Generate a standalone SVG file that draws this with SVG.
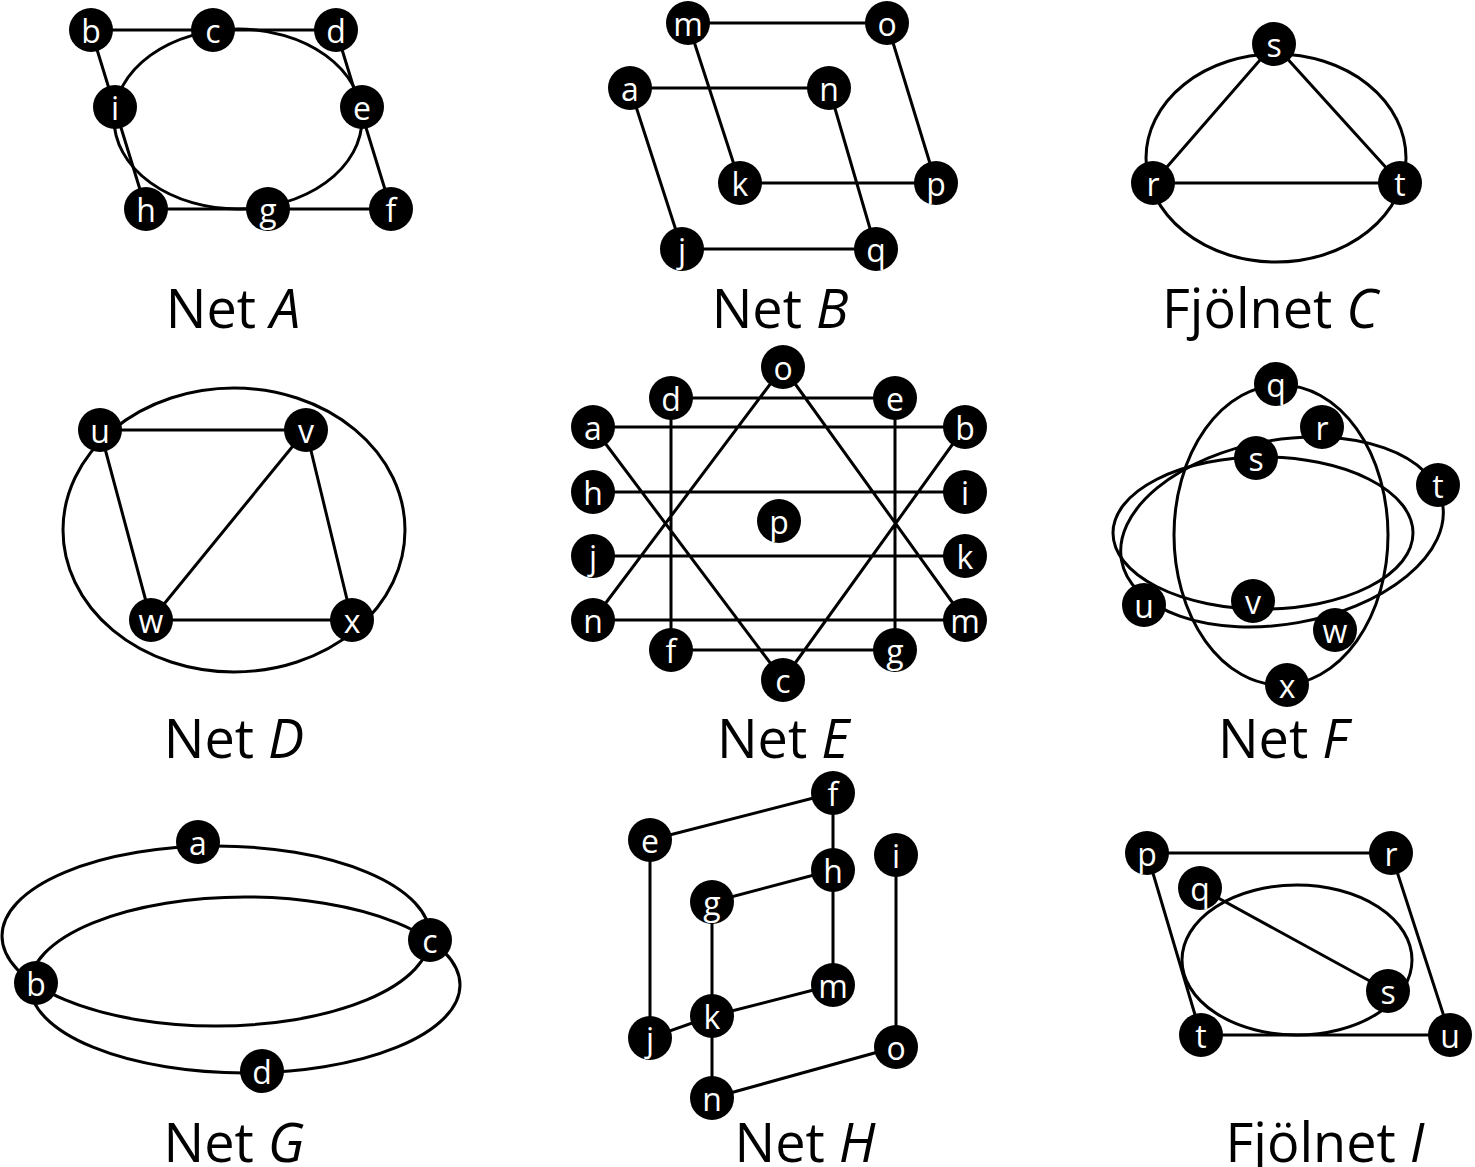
<svg xmlns="http://www.w3.org/2000/svg" width="1475" height="1167" viewBox="0 0 1475 1167">
<style>
.e{stroke:#000;stroke-width:3;fill:none}
.n circle{fill:#000}
.n text{fill:#fff;font-family:"Open Sans","Noto Sans",sans-serif;font-size:32px;text-anchor:middle;dominant-baseline:central}
.l{font-family:"Open Sans","Noto Sans",sans-serif;font-size:54px;text-anchor:middle;fill:#000}
</style>
<rect width="1475" height="1167" fill="#fff"/>
<g id="connectors" class="e">
<!-- A -->
<path d="M91,30H336M146,209H391M91,30L146,209M336,30L391,209"/>
<ellipse cx="238" cy="119" rx="124" ry="90"/>
<!-- B -->
<path d="M688,23H887M630,88H829M740,183H936M682,249H876M688,23L740,183M887,23L936,183M630,88L682,249M829,88L876,249"/>
<!-- C -->
<path d="M1274,44L1153,183H1400Z"/>
<ellipse cx="1276" cy="158" rx="130" ry="104"/>
<!-- D -->
<path d="M100,430H306M100,430L151,620M306,430L151,620M306,430L352,620M151,620H352"/>
<ellipse cx="234" cy="530" rx="171" ry="142"/>
<!-- E -->
<path d="M671,398H895M671,650H895M593,427H965M593,492H965M593,556H965M593,620H965M671,398V650M895,398V650M783,367L593,620M783,367L965,620M593,427L783,680M965,427L783,680"/>
<!-- F -->
<ellipse cx="1281" cy="535" rx="107" ry="150"/>
<ellipse cx="1263" cy="533" rx="150" ry="76"/>
<ellipse cx="1282" cy="532" rx="163" ry="92" transform="rotate(-10 1282 532)"/>
<!-- G -->
<ellipse cx="216" cy="936" rx="214" ry="90"/>
<ellipse cx="245" cy="985" rx="215" ry="88"/>
<!-- H -->
<path d="M650,840L833,793V985M712,902L833,870M712,902V1098M712,1016L833,985M650,840V1038L712,1016M896,855V1047L712,1098"/>
<!-- I -->
<path d="M1147,853H1391L1450,1035H1201ZM1200,888L1388,991"/>
<ellipse cx="1297" cy="960" rx="115" ry="75"/>
</g>
<g class="n">
<g id="A-b"><circle cx="91" cy="30" r="22"/><text x="91" y="30">b</text></g>
<g id="A-c"><circle cx="213" cy="30" r="22"/><text x="213" y="30">c</text></g>
<g id="A-d"><circle cx="336" cy="30" r="22"/><text x="336" y="30">d</text></g>
<g id="A-i"><circle cx="115" cy="107" r="22"/><text x="115" y="107">i</text></g>
<g id="A-e"><circle cx="362" cy="107" r="22"/><text x="362" y="107">e</text></g>
<g id="A-h"><circle cx="146" cy="209" r="22"/><text x="146" y="209">h</text></g>
<g id="A-g"><circle cx="268" cy="209" r="22"/><text x="268" y="209">g</text></g>
<g id="A-f"><circle cx="391" cy="209" r="22"/><text x="391" y="209">f</text></g>
<g id="B-m"><circle cx="688" cy="23" r="22"/><text x="688" y="23">m</text></g>
<g id="B-o"><circle cx="887" cy="23" r="22"/><text x="887" y="23">o</text></g>
<g id="B-a"><circle cx="630" cy="88" r="22"/><text x="630" y="88">a</text></g>
<g id="B-n"><circle cx="829" cy="88" r="22"/><text x="829" y="88">n</text></g>
<g id="B-k"><circle cx="740" cy="183" r="22"/><text x="740" y="183">k</text></g>
<g id="B-p"><circle cx="936" cy="183" r="22"/><text x="936" y="183">p</text></g>
<g id="B-j"><circle cx="682" cy="249" r="22"/><text x="682" y="249">j</text></g>
<g id="B-q"><circle cx="876" cy="249" r="22"/><text x="876" y="249">q</text></g>
<g id="C-s"><circle cx="1274" cy="44" r="22"/><text x="1274" y="44">s</text></g>
<g id="C-r"><circle cx="1153" cy="183" r="22"/><text x="1153" y="183">r</text></g>
<g id="C-t"><circle cx="1400" cy="183" r="22"/><text x="1400" y="183">t</text></g>
<g id="D-u"><circle cx="100" cy="430" r="22"/><text x="100" y="430">u</text></g>
<g id="D-v"><circle cx="306" cy="430" r="22"/><text x="306" y="430">v</text></g>
<g id="D-w"><circle cx="151" cy="620" r="22"/><text x="151" y="620">w</text></g>
<g id="D-x"><circle cx="352" cy="620" r="22"/><text x="352" y="620">x</text></g>
<g id="E-o"><circle cx="783" cy="367" r="22"/><text x="783" y="367">o</text></g>
<g id="E-d"><circle cx="671" cy="398" r="22"/><text x="671" y="398">d</text></g>
<g id="E-e"><circle cx="895" cy="398" r="22"/><text x="895" y="398">e</text></g>
<g id="E-a"><circle cx="593" cy="427" r="22"/><text x="593" y="427">a</text></g>
<g id="E-b"><circle cx="965" cy="427" r="22"/><text x="965" y="427">b</text></g>
<g id="E-h"><circle cx="593" cy="492" r="22"/><text x="593" y="492">h</text></g>
<g id="E-i"><circle cx="965" cy="492" r="22"/><text x="965" y="492">i</text></g>
<g id="E-p"><circle cx="779" cy="521" r="22"/><text x="779" y="521">p</text></g>
<g id="E-j"><circle cx="593" cy="556" r="22"/><text x="593" y="556">j</text></g>
<g id="E-k"><circle cx="965" cy="556" r="22"/><text x="965" y="556">k</text></g>
<g id="E-n"><circle cx="593" cy="620" r="22"/><text x="593" y="620">n</text></g>
<g id="E-m"><circle cx="965" cy="620" r="22"/><text x="965" y="620">m</text></g>
<g id="E-f"><circle cx="671" cy="650" r="22"/><text x="671" y="650">f</text></g>
<g id="E-g"><circle cx="895" cy="650" r="22"/><text x="895" y="650">g</text></g>
<g id="E-c"><circle cx="783" cy="680" r="22"/><text x="783" y="680">c</text></g>
<g id="F-q"><circle cx="1276" cy="384" r="22"/><text x="1276" y="384">q</text></g>
<g id="F-r"><circle cx="1322" cy="427" r="22"/><text x="1322" y="427">r</text></g>
<g id="F-s"><circle cx="1256" cy="458" r="22"/><text x="1256" y="458">s</text></g>
<g id="F-t"><circle cx="1438" cy="485" r="22"/><text x="1438" y="485">t</text></g>
<g id="F-u"><circle cx="1144" cy="605" r="22"/><text x="1144" y="605">u</text></g>
<g id="F-v"><circle cx="1253" cy="601" r="22"/><text x="1253" y="601">v</text></g>
<g id="F-w"><circle cx="1335" cy="630" r="22"/><text x="1335" y="630">w</text></g>
<g id="F-x"><circle cx="1287" cy="685" r="22"/><text x="1287" y="685">x</text></g>
<g id="G-a"><circle cx="198" cy="842" r="22"/><text x="198" y="842">a</text></g>
<g id="G-b"><circle cx="36" cy="983" r="22"/><text x="36" y="983">b</text></g>
<g id="G-c"><circle cx="430" cy="940" r="22"/><text x="430" y="940">c</text></g>
<g id="G-d"><circle cx="262" cy="1071" r="22"/><text x="262" y="1071">d</text></g>
<g id="H-f"><circle cx="833" cy="793" r="22"/><text x="833" y="793">f</text></g>
<g id="H-e"><circle cx="650" cy="840" r="22"/><text x="650" y="840">e</text></g>
<g id="H-i"><circle cx="896" cy="855" r="22"/><text x="896" y="855">i</text></g>
<g id="H-h"><circle cx="833" cy="870" r="22"/><text x="833" y="870">h</text></g>
<g id="H-g"><circle cx="712" cy="902" r="22"/><text x="712" y="902">g</text></g>
<g id="H-m"><circle cx="833" cy="985" r="22"/><text x="833" y="985">m</text></g>
<g id="H-k"><circle cx="712" cy="1016" r="22"/><text x="712" y="1016">k</text></g>
<g id="H-j"><circle cx="650" cy="1038" r="22"/><text x="650" y="1038">j</text></g>
<g id="H-o"><circle cx="896" cy="1047" r="22"/><text x="896" y="1047">o</text></g>
<g id="H-n"><circle cx="712" cy="1098" r="22"/><text x="712" y="1098">n</text></g>
<g id="I-p"><circle cx="1147" cy="853" r="22"/><text x="1147" y="853">p</text></g>
<g id="I-r"><circle cx="1391" cy="853" r="22"/><text x="1391" y="853">r</text></g>
<g id="I-q"><circle cx="1200" cy="888" r="22"/><text x="1200" y="888">q</text></g>
<g id="I-s"><circle cx="1388" cy="991" r="22"/><text x="1388" y="991">s</text></g>
<g id="I-t"><circle cx="1201" cy="1035" r="22"/><text x="1201" y="1035">t</text></g>
<g id="I-u"><circle cx="1450" cy="1035" r="22"/><text x="1450" y="1035">u</text></g>
</g>
<g id="labels">
<text class="l" x="233" y="328">Net <tspan font-style="italic">A</tspan></text>
<text class="l" x="780" y="328">Net <tspan font-style="italic">B</tspan></text>
<text class="l" x="1270" y="328">Fjölnet <tspan font-style="italic">C</tspan></text>
<text class="l" x="234" y="758">Net <tspan font-style="italic">D</tspan></text>
<text class="l" x="783" y="758">Net <tspan font-style="italic">E</tspan></text>
<text class="l" x="1283" y="758">Net <tspan font-style="italic">F</tspan></text>
<text class="l" x="234" y="1162">Net <tspan font-style="italic">G</tspan></text>
<text class="l" x="805" y="1162">Net <tspan font-style="italic">H</tspan></text>
<text class="l" x="1325" y="1162">Fjölnet <tspan font-style="italic">I</tspan></text>
</g>
</svg>
